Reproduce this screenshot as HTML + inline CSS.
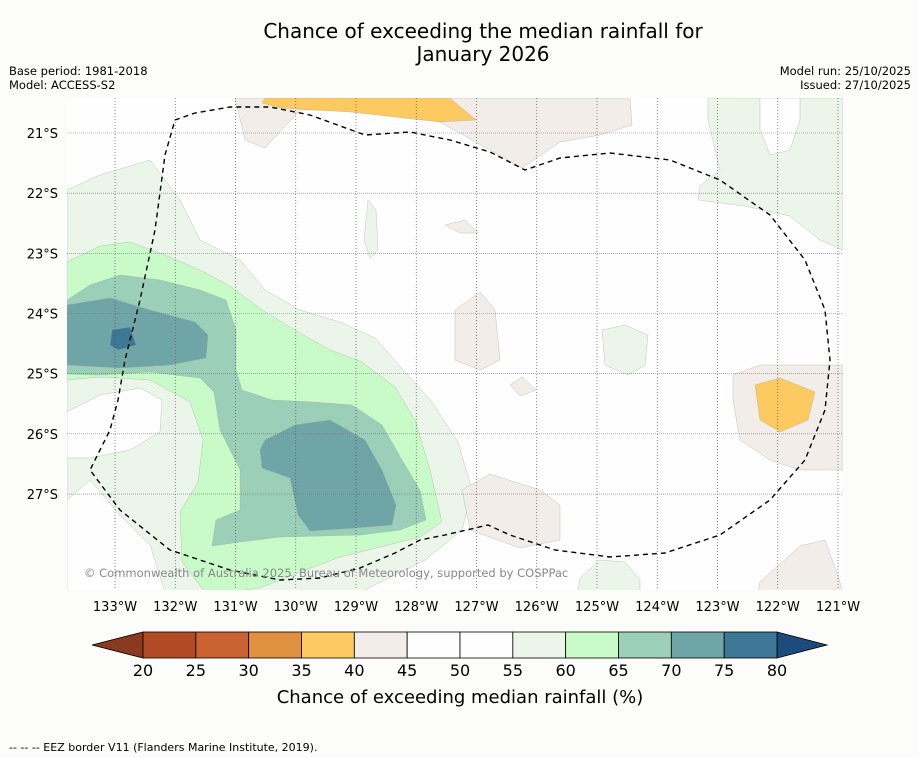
<!DOCTYPE html>
<html><head><meta charset="utf-8"><style>
body{margin:0;background:#fcfdfb;font-family:"DejaVu Sans","Liberation Sans",sans-serif;}
svg{display:block;font-family:"DejaVu Sans","Liberation Sans",sans-serif;}
</style></head><body>
<svg id="c" width="919" height="758" viewBox="0 0 919 758">
<rect width="919" height="758" fill="#fcfdfb"/>
<text x="483" y="38" font-size="20" text-anchor="middle" fill="#000">Chance of exceeding the median rainfall for</text>
<text x="483" y="61" font-size="20" text-anchor="middle" fill="#000">January 2026</text>
<text x="9" y="75" font-size="11.5">Base period: 1981-2018</text>
<text x="9" y="89" font-size="11.5">Model: ACCESS-S2</text>
<text x="911" y="75" font-size="11.5" text-anchor="end">Model run: 25/10/2025</text>
<text x="911" y="89" font-size="11.5" text-anchor="end">Issued: 27/10/2025</text>
<defs><clipPath id="mc"><rect x="67" y="98" width="776" height="492"/></clipPath></defs>
<g id="map" clip-path="url(#mc)"></g>
<g id="axes"></g>
<g id="cbar"></g>
<text x="460" y="703" font-size="18" text-anchor="middle">Chance of exceeding median rainfall (%)</text>
<text x="9" y="751" font-size="11">--  --  -- EEZ border V11 (Flanders Marine Institute, 2019).</text>
</svg>
<script>
const lonTicks=[133,132,131,130,129,128,127,126,125,124,123,122,121];
const latTicks=[21,22,23,24,25,26,27];
const cbLevels=[20,25,30,35,40,45,50,55,60,65,70,75,80];
const cbColors=["#b34a26","#cb6231","#e0913f","#fdca61","#f2ede8","#fdfefd","#fdfefd","#ebf5ea","#c9fbc9","#9bcfb8","#70a5a8","#3e7695"];
function X(lon){return 115+(133-lon)*60.25;}
function Y(lat){return 133+(lat-21)*60.17;}
function PX(x){return 133-(x-115)/60.25;}
function PY(y){return 21+(y-133)/60.17;}
const NS="http://www.w3.org/2000/svg";
function el(t,a,p){const e=document.createElementNS(NS,t);for(const k in a)e.setAttribute(k,a[k]);p.appendChild(e);return e;}
function S(pts){return pts.map(p=>[PX(p[0]),PY(p[1])]);}
const shapes=[
 ["light-green-west",7,S([[67,190],[100,175],[150,160],[180,200],[200,240],[240,260],[265,290],[300,310],[340,322],[375,338],[405,372],[432,402],[458,442],[472,490],[462,530],[425,560],[385,580],[360,592],[67,592]])],
 ["white-patch-sw1",5,S([[67,412],[100,395],[140,388],[162,400],[160,432],[130,450],[90,458],[67,458]])],
 ["white-patch-sw2",5,S([[67,500],[90,480],[120,515],[150,545],[165,592],[67,592]])],
 ["green-60",8,S([[67,262],[100,246],[130,242],[165,255],[200,270],[230,286],[262,310],[300,333],[330,350],[362,362],[395,387],[415,420],[430,470],[442,522],[420,537],[380,547],[340,557],[300,572],[260,588],[230,592],[205,592],[182,562],[180,512],[198,482],[203,440],[190,402],[150,380],[100,377],[67,380]])],
 ["teal-65",9,S([[67,300],[90,285],[120,275],[160,280],[200,290],[226,300],[236,330],[236,370],[242,390],[272,400],[312,402],[352,405],[382,425],[402,460],[420,490],[426,520],[400,530],[360,535],[320,536],[280,537],[240,542],[212,546],[216,520],[240,510],[240,470],[220,430],[214,392],[200,378],[150,372],[100,375],[67,374]])],
 ["teal-70-west",10,S([[67,305],[110,298],[150,310],[195,322],[208,335],[206,358],[170,365],[120,368],[67,365]])],
 ["teal-70-south",10,S([[265,440],[295,425],[330,420],[365,440],[382,470],[396,505],[392,525],[355,528],[310,531],[298,515],[290,478],[262,468],[260,450]])],
 ["blue-75",11,S([[112,330],[130,327],[136,345],[118,350],[110,345]])],
 ["green-ne",7,S([[708,98],[843,98],[843,250],[820,240],[790,216],[745,206],[698,200],[700,186],[720,170],[708,120]])],
 ["white-ne-notch",5,S([[760,98],[800,98],[800,120],[790,150],[770,155],[760,130]])],
 ["green-spot-1",7,S([[368,200],[376,210],[378,250],[370,258],[364,240]])],
 ["green-spot-2",7,S([[602,330],[625,325],[648,335],[645,365],[628,375],[605,365]])],
 ["green-spot-3",7,S([[580,578],[600,560],[625,562],[640,580],[640,592],[578,592]])],
 ["beige-north",4,S([[235,98],[630,98],[632,125],[600,135],[560,142],[522,168],[490,150],[440,122],[380,110],[300,110],[265,148],[245,140]])],
 ["beige-east",4,S([[733,375],[760,365],[843,365],[843,470],[800,470],[770,460],[740,440],[733,400]])],
 ["beige-mid",4,S([[455,310],[480,292],[495,310],[500,360],[480,370],[455,360]])],
 ["beige-small",4,S([[510,385],[522,377],[536,390],[520,396]])],
 ["beige-south",4,S([[462,490],[490,474],[540,490],[560,505],[560,540],[520,548],[470,530]])],
 ["beige-se",4,S([[760,582],[800,546],[825,540],[836,570],[843,592],[758,592]])],
 ["beige-tiny",4,S([[445,225],[465,220],[478,233],[460,233]])],
 ["yellow-north",3,S([[265,98],[450,98],[476,120],[440,122],[350,112],[280,108],[262,103]])],
 ["yellow-east",3,S([[755,385],[780,378],[815,392],[808,420],[780,432],[760,420]])]
];
const eez=S([[175,120],[195,113],[230,107],[270,107],[310,115],[365,135],[410,132],[450,140],[490,152],[525,170],[560,158],[610,153],[670,160],[720,180],[770,215],[805,260],[825,310],[830,360],[825,410],[805,460],[770,500],[720,535],[665,553],[610,557],[555,550],[510,535],[488,525],[445,535],[420,540],[395,553],[360,568],[320,578],[280,580],[230,570],[170,550],[120,510],[90,470],[110,430],[118,400],[125,360],[140,300],[155,230],[165,155],[175,120]]);
const map=document.getElementById('map');
el('rect',{x:67,y:98,width:776,height:492,fill:'#fdfefd',},map);
shapes.forEach(s=>{
 const d='M'+s[2].map(p=>X(p[0]).toFixed(1)+','+Y(p[1]).toFixed(1)).join('L')+'Z';
 const p=el('path',{d:d,fill:cbColors[s[1]],stroke:'#9aa29a','stroke-width':0.3},map);
 
 
});
lonTicks.forEach(l=>{const g=el('line',{x1:X(l),x2:X(l),y1:98,y2:590,stroke:'#555','stroke-width':0.7,'stroke-dasharray':'1,2'},map);
 });
latTicks.forEach(l=>{const g=el('line',{x1:67,x2:843,y1:Y(l),y2:Y(l),stroke:'#777','stroke-width':0.6,'stroke-dasharray':'1,1'},map);
 });
const ez=el('path',{d:'M'+eez.map(p=>X(p[0]).toFixed(1)+','+Y(p[1]).toFixed(1)).join('L'),fill:'none',stroke:'#000','stroke-width':1.4,'stroke-dasharray':'5,4'},map);


const cp=el('text',{x:84,y:577,'font-size':11.5,fill:'#888'},map);
cp.textContent='© Commonwealth of Australia 2025, Bureau of Meteorology, supported by COSPPac';


const ax=document.getElementById('axes');
lonTicks.forEach(l=>{const t=el('text',{x:X(l),y:611,'font-size':13,'text-anchor':'middle'},ax);t.textContent=l+'°W';
 });
latTicks.forEach(l=>{const t=el('text',{x:58,y:Y(l)+5,'font-size':13,'text-anchor':'end'},ax);t.textContent=l+'°S';
 });
const cb=document.getElementById('cbar');
function CX(v){return 143+(v-20)*(634/60);}
const y0=632,y1=658;
const lt=el('polygon',{points:`${CX(20)},${y0} 92,${(y0+y1)/2} ${CX(20)},${y1}`,fill:'#8a3a1f',stroke:'#000','stroke-width':0.8},cb);

const rt=el('polygon',{points:`${CX(80)},${y0} 827,${(y0+y1)/2} ${CX(80)},${y1}`,fill:'#1b4b7b',stroke:'#000','stroke-width':0.8},cb);

cbColors.forEach((c,i)=>{const r=el('rect',{x:CX(cbLevels[i]),y:y0,width:CX(cbLevels[i+1])-CX(cbLevels[i]),height:y1-y0,fill:c,stroke:'#000','stroke-width':0.8},cb);
 });
cbLevels.forEach(v=>{const t=el('text',{x:CX(v),y:676,'font-size':16,'text-anchor':'middle'},cb);t.textContent=v;
 });
</script>
</body></html>
